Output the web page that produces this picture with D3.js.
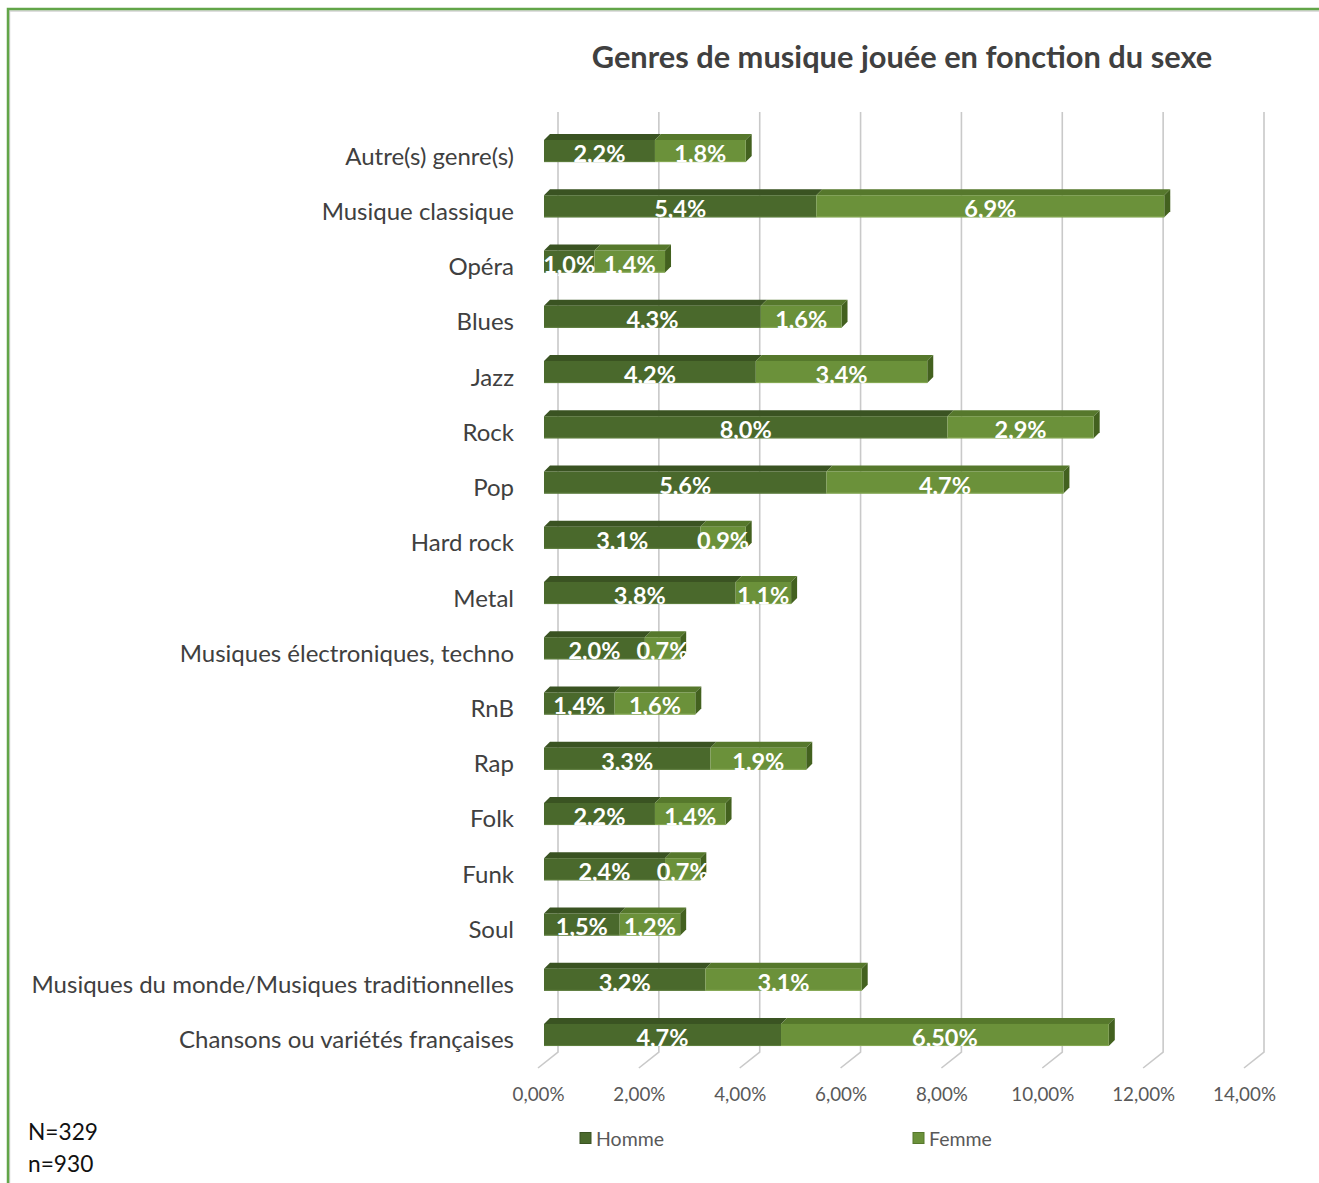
<!DOCTYPE html>
<html>
<head>
<meta charset="utf-8">
<script src="https://cdn.jsdelivr.net/npm/d3@7"></script>
<style>
  body { margin: 0; background: #ffffff; }
  svg { display: block; }
  text { font-family: Lato, "Open Sans", "Noto Sans", sans-serif; }
</style>
</head>
<body>
<svg id="chart" width="1319" height="1183"></svg>
<script>
// Genres joués, part des répondants par sexe (%)
const categories = [
  "Autre(s) genre(s)",
  "Musique classique",
  "Opéra",
  "Blues",
  "Jazz",
  "Rock",
  "Pop",
  "Hard rock",
  "Metal",
  "Musiques électroniques, techno",
  "RnB",
  "Rap",
  "Folk",
  "Funk",
  "Soul",
  "Musiques du monde/Musiques traditionnelles",
  "Chansons ou variétés françaises"
];
const homme = [2.2, 5.4, 1.0, 4.3, 4.2, 8.0, 5.6, 3.1, 3.8, 2.0, 1.4, 3.3, 2.2, 2.4, 1.5, 3.2, 4.7];
const femme = [1.8, 6.9, 1.4, 1.6, 3.4, 2.9, 4.7, 0.9, 1.1, 0.7, 1.6, 1.9, 1.4, 0.7, 1.2, 3.1, 6.5];
// decimals shown in each label
const hommeDecimals = [1, 1, 1, 1, 1, 1, 1, 1, 1, 1, 1, 1, 1, 1, 1, 1, 1];
const femmeDecimals = [1, 1, 1, 1, 1, 1, 1, 1, 1, 1, 1, 1, 1, 1, 1, 1, 2];
const tickValues = [0, 2, 4, 6, 8, 10, 12, 14];
const seriesNames = ["Homme", "Femme"];
const title = "Genres de musique jouée en fonction du sexe";
const notes = ["N=329", "n=930"];

const colors = {
  Homme: { front: "#4a692c", top: "#3a5322", side: "#33481e", edge: "#5e7e3e" },
  Femme: { front: "#6b913a", top: "#56782c", side: "#43611f", edge: "#86a954" }
};

const fr = d3.formatLocale({ decimal: ",", thousands: " ", grouping: [3], currency: ["", " €"], percent: "%" });
const fmt = (v, dec) => fr.format("." + dec + "f")(v) + "%";

const svg = d3.select("#chart");

// frame
svg.append("rect").attr("x", 9.5).attr("y", 11).attr("width", 1330).attr("height", 1200)
  .attr("fill", "none").attr("stroke", "#d4d4d4").attr("stroke-width", 1.5);
svg.append("rect").attr("x", 8).attr("y", 9).attr("width", 1330).attr("height", 1200)
  .attr("fill", "none").attr("stroke", "#62a548").attr("stroke-width", 2.5);

// 3D geometry: floor front edge, bar front plane, back wall
const floorX0 = 538, barX0 = 544, backX0 = 558;
const gridTop = 112, gridBottom = 1052, floorFrontY = 1068;
const depth = { dx: 6, dy: 6 };

const x = d3.scaleLinear().domain([0, 14]).range([0, 706]);
const y = d3.scaleBand().domain(categories).range([123.4, 1062.6])
  .paddingInner(0.6).paddingOuter(0.3);

// gridlines on back wall and floor
const grid = svg.append("g").attr("fill", "none").attr("stroke", "#c9c9c9").attr("stroke-width", 1.6);
grid.selectAll("path").data(tickValues).join("path")
  .attr("d", t => {
    const bx = backX0 + x(t), fx = floorX0 + x(t);
    return `M${bx},${gridTop}V${gridBottom}L${fx},${floorFrontY}`;
  });

// x axis labels
const axis = d3.axisBottom(x).tickValues(tickValues).tickSize(0).tickPadding(0)
  .tickFormat(t => fmt(t, 2));
const gAxis = svg.append("g").attr("transform", `translate(${floorX0},1088)`).call(axis);
gAxis.select(".domain").remove();
gAxis.selectAll("text").attr("font-size", 18.8).attr("fill", "#595959")
  .attr("font-family", "Lato, 'Open Sans', sans-serif").attr("dy", "0.71em");

// stacked bars
const rows = categories.map((c, i) => ({ cat: c, Homme: homme[i], Femme: femme[i], i }));
const stack = d3.stack().keys(seriesNames)(rows);
const bh = y.bandwidth();

const bars = svg.append("g");
stack.forEach((layer, li) => {
  const key = layer.key, col = colors[key];
  const last = li === stack.length - 1;
  const g = bars.append("g");
  layer.forEach(d => {
    const x0 = barX0 + x(d[0]), x1 = barX0 + x(d[1]);
    const yt = y(d.data.cat);
    // top face
    g.append("path")
      .attr("d", `M${x0},${yt}L${x0 + depth.dx},${yt - depth.dy}L${x1 + depth.dx},${yt - depth.dy}L${x1},${yt}Z`)
      .attr("fill", col.top);
    // end face
    if (last) {
      g.append("path")
        .attr("d", `M${x1},${yt}L${x1 + depth.dx},${yt - depth.dy}L${x1 + depth.dx},${yt + bh - depth.dy}L${x1},${yt + bh}Z`)
        .attr("fill", col.side);
    }
    // front face
    g.append("rect").attr("x", x0).attr("y", yt).attr("width", x1 - x0).attr("height", bh)
      .attr("fill", col.front);
    g.append("line").attr("x1", x0).attr("x2", x1).attr("y1", yt + bh - 0.5).attr("y2", yt + bh - 0.5)
      .attr("stroke", col.edge).attr("stroke-width", 1);
  });
});

// value labels
const labels = svg.append("g").attr("fill", "#ffffff").attr("font-weight", 700)
  .attr("font-size", 23.5).attr("text-anchor", "middle");
stack.forEach(layer => {
  const dec = layer.key === "Homme" ? hommeDecimals : femmeDecimals;
  layer.forEach(d => {
    const cx = barX0 + (x(d[0]) + x(d[1])) / 2;
    labels.append("text")
      .attr("x", cx).attr("y", y(d.data.cat) + bh / 2 + 2)
      .attr("dominant-baseline", "central")
      .text(fmt(d.data[layer.key], dec[d.data.i]));
  });
});

// category labels
svg.append("g").selectAll("text").data(categories).join("text")
  .attr("x", 514).attr("y", c => y(c) + bh / 2 + 4)
  .attr("text-anchor", "end").attr("dominant-baseline", "central")
  .attr("font-size", 24).attr("fill", "#404040")
  .text(c => c);

// title
svg.append("text").attr("x", 902).attr("y", 56)
  .attr("text-anchor", "middle").attr("dominant-baseline", "central")
  .attr("font-size", 30.8).attr("font-weight", 700).attr("fill", "#404040")
  .text(title);

// legend
const legendX = [580, 913];
const lg = svg.append("g").selectAll("g").data(seriesNames).join("g")
  .attr("transform", (d, i) => `translate(${legendX[i]},1138)`);
lg.append("rect").attr("x", 0).attr("y", -5.5).attr("width", 11).attr("height", 11)
  .attr("fill", d => colors[d].front).attr("stroke", d => colors[d].top).attr("stroke-width", 1);
lg.append("text").attr("x", 16).attr("y", 0).attr("dominant-baseline", "central")
  .attr("font-size", 19.5).attr("fill", "#595959").text(d => d);

// sample sizes
svg.append("g").selectAll("text").data(notes).join("text")
  .attr("x", 28).attr("y", (d, i) => 1131 + i * 32)
  .attr("dominant-baseline", "central")
  .attr("font-size", 22.7).attr("fill", "#111111").text(d => d);
</script>
</body>
</html>
